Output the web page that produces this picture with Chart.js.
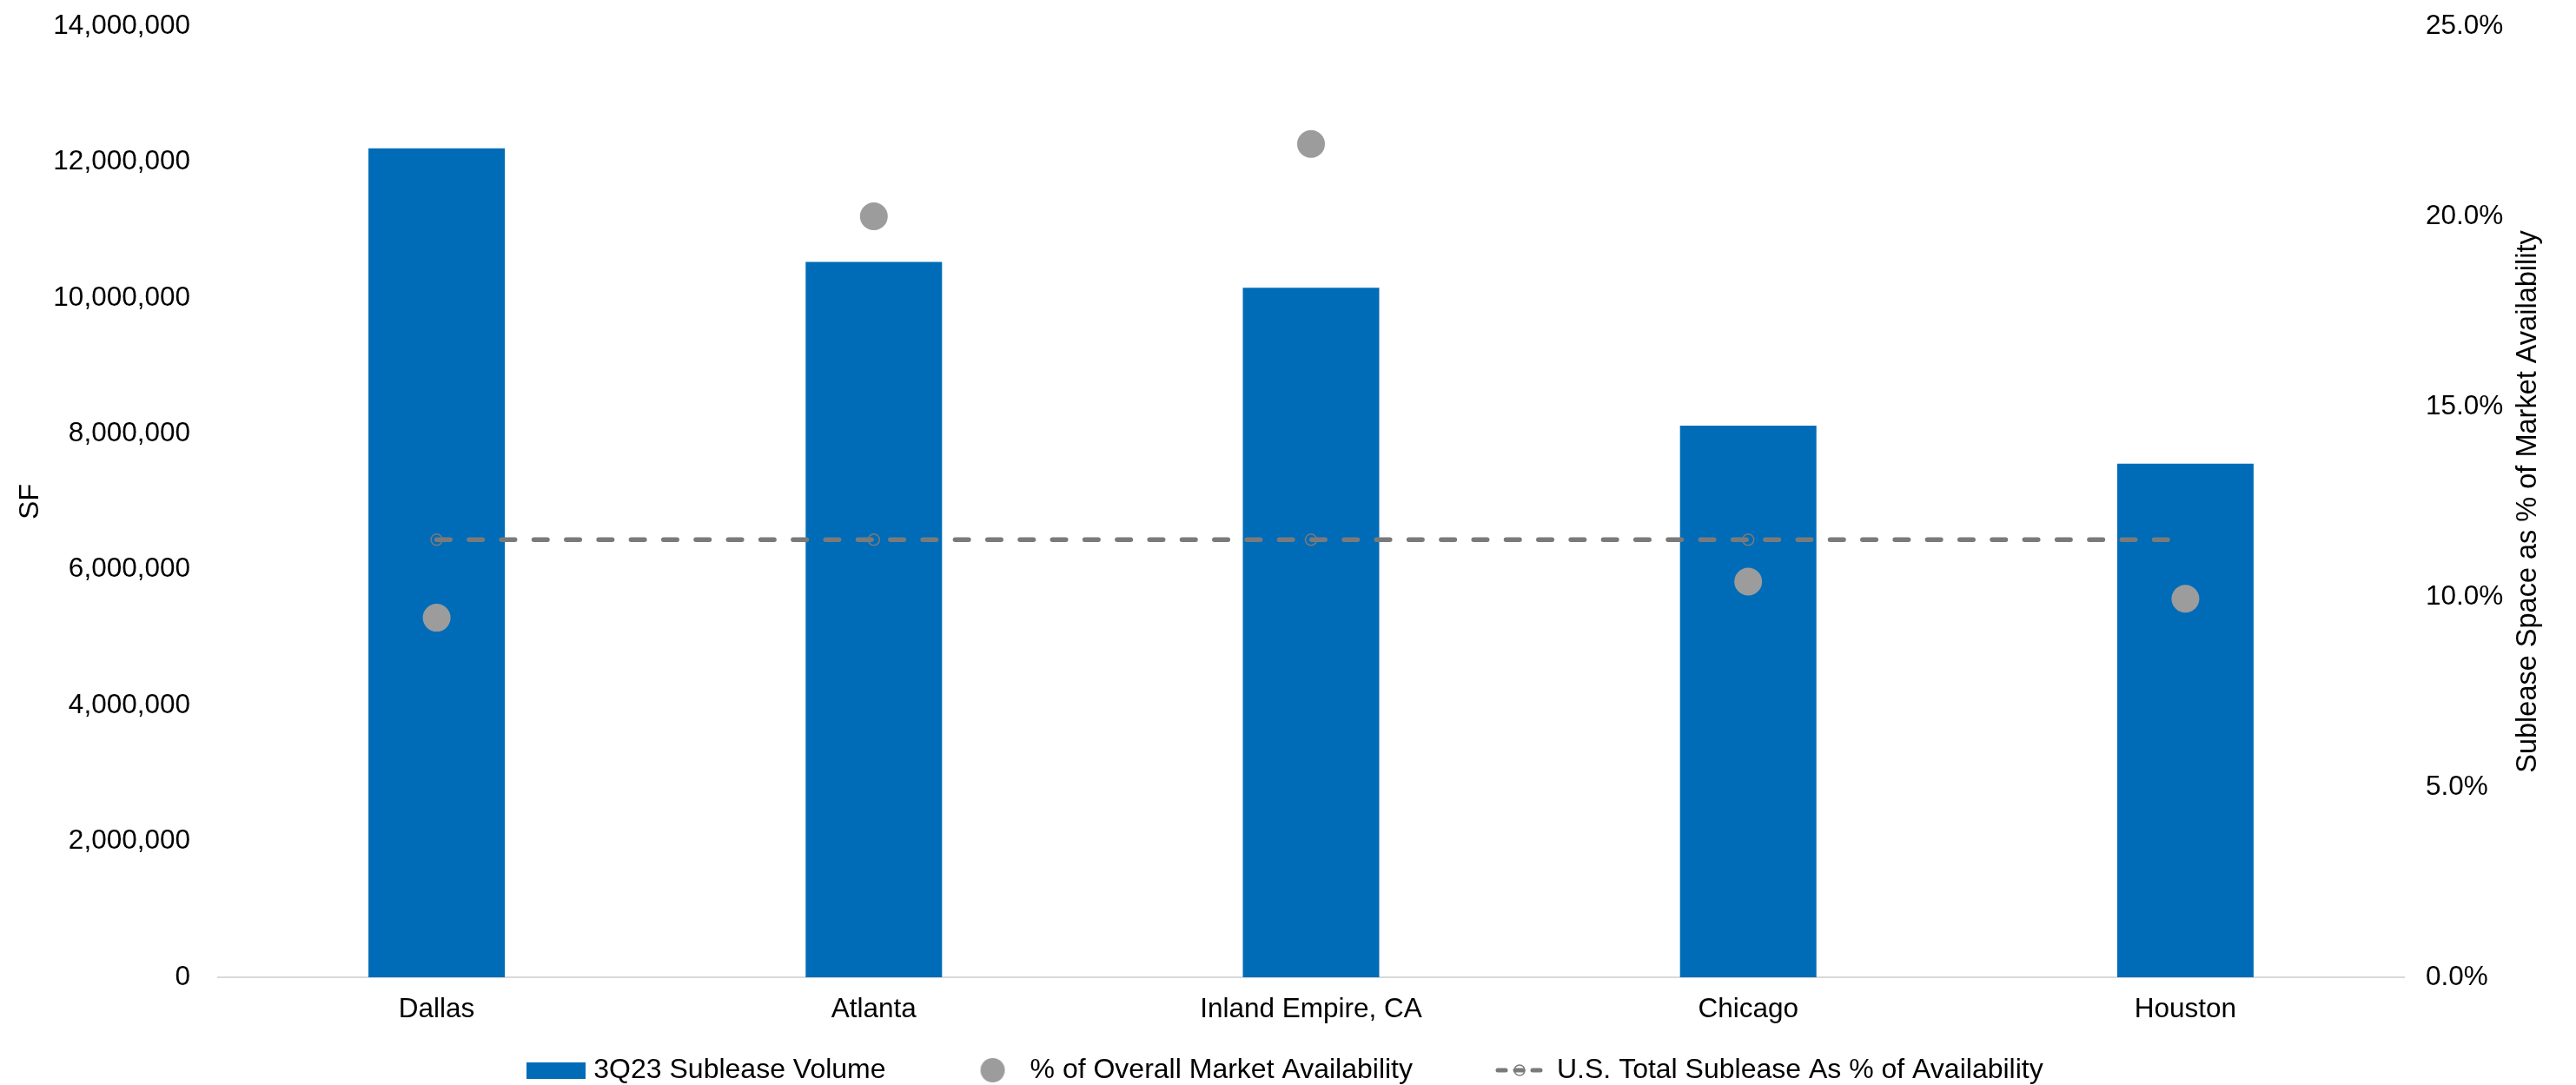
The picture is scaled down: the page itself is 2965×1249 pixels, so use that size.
<!DOCTYPE html>
<html>
<head>
<meta charset="utf-8">
<script src="https://cdn.jsdelivr.net/npm/chart.js@4.4.0/dist/chart.umd.min.js"></script>
<style>
html, body { margin: 0; padding: 0; background: #fff; }
</style>
</head>
<body>
<canvas id="subleaseChart" width="2965" height="1249"></canvas>
<script>
// data
const markets = ['Dallas', 'Atlanta', 'Inland Empire, CA', 'Chicago', 'Houston'];
const subleaseVolume = [12200000, 10530000, 10150000, 8120000, 7560000];
const marketAvailabilityPct = [9.45, 20.0, 21.9, 10.4, 9.95];
const usTotalPct = [11.5, 11.5, 11.5, 11.5, 11.5];
const sfTicks = [0, 2000000, 4000000, 6000000, 8000000, 10000000, 12000000, 14000000];
const pctTicks = [0, 5, 10, 15, 20, 25];

const BLUE = '#006cb7';
const DOT_GREY = '#9c9c9c';
const LINE_GREY = '#7a7a7a';

Chart.defaults.font.family = '"Liberation Sans", Arial, sans-serif';
Chart.defaults.font.size = 31.5;
Chart.defaults.color = '#000';

// legend icons
function makeIcon(w, h, draw) {
    const c = document.createElement('canvas');
    c.width = w; c.height = h;
    draw(c.getContext('2d'), w, h);
    return c;
}
const legendIcons = [
    makeIcon(68, 19, (g, w, h) => { g.fillStyle = BLUE; g.fillRect(0, 0, w, h); }),
    makeIcon(30, 30, (g, w, h) => { g.fillStyle = DOT_GREY; g.beginPath(); g.arc(w / 2, h / 2, 14, 0, Math.PI * 2); g.fill(); }),
    makeIcon(60, 18, (g, w, h) => {
        g.strokeStyle = LINE_GREY; g.lineWidth = 5; g.lineCap = 'round';
        g.setLineDash([9, 11]);
        g.beginPath(); g.moveTo(5, h / 2); g.lineTo(w - 5, h / 2); g.stroke();
        g.setLineDash([]); g.lineWidth = 1.5;
        g.beginPath(); g.arc(w / 2, h / 2, 6, 0, Math.PI * 2); g.stroke();
    })
];

const rightTitle = {
    id: 'rightTitle',
    afterDraw(chart) {
        const ctx = chart.ctx;
        const area = chart.chartArea;
        ctx.save();
        ctx.translate(chart.width - 55, (area.top + area.bottom) / 2);
        ctx.rotate(-Math.PI / 2);
        ctx.font = '32.5px "Liberation Sans", Arial, sans-serif';
        ctx.fillStyle = '#000';
        ctx.textAlign = 'center';
        ctx.textBaseline = 'middle';
        ctx.fillText('Sublease Space as % of Market Availability', 0, 0);
        ctx.restore();
    }
};

// legend: keep wide gaps between items but only take a thin strip at the bottom
const legendSize = {
    id: 'legendSize',
    beforeInit(chart) {
        const fit = chart.legend.fit;
        chart.legend.fit = function () {
            fit.call(this);
            this.height = 62;
        };
    },
    afterLayout(chart) {
        chart.legend.top = chart.legend.bottom - 129;
    }
};

function fixVertical(width) {
    return axis => {
        axis.width = width;
        axis.paddingTop = 0;
        axis.paddingBottom = 0;
    };
}

const config = {
    data: {
        labels: markets,
        datasets: [{
            type: 'bar',
            label: '3Q23 Sublease Volume',
            data: subleaseVolume,
            backgroundColor: BLUE,
            barPercentage: 0.312,
            categoryPercentage: 1,
            yAxisID: 'y',
            order: 3
        }, {
            type: 'line',
            label: '% of Overall Market Availability',
            data: marketAvailabilityPct,
            showLine: false,
            pointRadius: 16,
            pointHoverRadius: 16,
            pointBackgroundColor: DOT_GREY,
            pointBorderWidth: 0,
            yAxisID: 'y1',
            order: 2
        }, {
            type: 'line',
            label: 'U.S. Total Sublease As % of Availability',
            data: usTotalPct,
            borderColor: LINE_GREY,
            borderWidth: 5.5,
            borderDash: [15.5, 21.8],
            borderCapStyle: 'round',
            pointRadius: [6.5, 6.5, 6.5, 6.5, 0],
            pointBorderWidth: 1.5,
            pointBorderColor: LINE_GREY,
            pointBackgroundColor: 'rgba(0,0,0,0)',
            yAxisID: 'y1',
            order: 1
        }]
    },
    options: {
        responsive: false,
        animation: false,
        layout: { padding: { top: 30, left: 0, right: 0, bottom: 0 } },
        plugins: {
            tooltip: { enabled: false },
            legend: {
                position: 'bottom',
                labels: {
                    usePointStyle: true,
                    pointStyleWidth: 54,
                    padding: 96,
                    font: { size: 32 },
                    color: '#000',
                    generateLabels: chart => chart.data.datasets.map((ds, i) => ({
                        text: ds.label,
                        pointStyle: legendIcons[i],
                        datasetIndex: i,
                        fillStyle: 'transparent',
                        strokeStyle: 'transparent',
                        lineWidth: 0,
                        hidden: false,
                        fontColor: '#000'
                    }))
                }
            }
        },
        scales: {
            x: {
                grid: { display: false },
                border: { color: '#d9d9d9', width: 2 },
                ticks: { padding: 10 },
                afterFit: axis => { axis.height = 62; }
            },
            y: {
                position: 'left',
                min: 0,
                max: 14000000,
                afterBuildTicks: axis => { axis.ticks = sfTicks.map(v => ({ value: v })); },
                grid: { display: false },
                border: { display: false },
                ticks: {
                    padding: 24,
                    callback: v => v.toLocaleString('en-US')
                },
                title: { display: true, text: 'SF', font: { size: 32 }, padding: { top: 16, bottom: 0 } },
                afterFit: fixVertical(251)
            },
            y1: {
                position: 'right',
                min: 0,
                max: 25,
                afterBuildTicks: axis => { axis.ticks = pctTicks.map(v => ({ value: v })); },
                grid: { display: false },
                border: { display: false },
                ticks: {
                    padding: 17,
                    callback: v => v.toFixed(1) + '%'
                },
                afterFit: fixVertical(198)
            }
        }
    },
    plugins: [legendSize, rightTitle]
};

window.onload = function () {
    const ctx = document.getElementById('subleaseChart').getContext('2d');
    new Chart(ctx, config);
};
</script>
</body>
</html>
